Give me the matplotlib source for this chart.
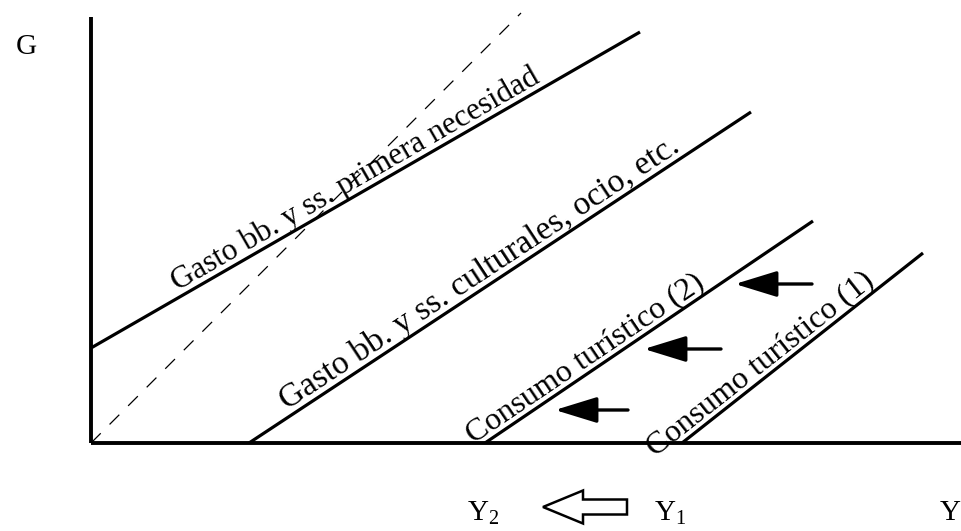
import numpy as np
import matplotlib
matplotlib.use("Agg")
import matplotlib.pyplot as plt
from matplotlib.patches import FancyArrow

plt.rcParams['font.family'] = ['Liberation Serif', 'DejaVu Serif']
plt.rcParams['mathtext.fontset'] = 'custom'
plt.rcParams['mathtext.rm'] = 'Liberation Serif'

# Income (Y) / expenditure (G) schematic, in axis units (1 unit = 10 px)
curve_names = [
    "Gasto bb. y ss. primera necesidad",
    "Gasto bb. y ss. culturales, ocio, etc.",
    "Consumo turístico (2)",
    "Consumo turístico (1)",
]
curve_x0 = [0.0, 15.8, 39.4, 59.1]
curve_y0 = [9.5, 0.0, 0.0, 0.0]
curve_x1 = [54.9, 66.0, 72.2, 83.2]
curve_y1 = [41.1, 33.1, 22.2, 19.0]
# where each label starts along its curve (x in axis units) and its size
label_start = [9.0, 20.0, 38.6, 56.8]
label_size = [22.5, 24, 23, 23]

# 45-degree reference line
diag_x = [0.0, 43.0]
diag_y = [0.0, 43.0]

# Leftward shift arrows (tail x, head x, y)
shift_tail = [72.1, 63.0, 53.7]
shift_head = [64.4, 55.3, 46.4]
shift_y = [15.9, 9.4, 3.3]

W, H = 962, 531
fig = plt.figure(figsize=(W / 100, H / 100), dpi=100)
ox, oy = 91, 443      # origin, pixels from top-left
top, right = 17, 962
ax = fig.add_axes([ox / W, (H - oy) / H, (right - ox) / W, (oy - top) / H])
ax.set_xlim(0, (right - ox) / 10)
ax.set_ylim(0, (oy - top) / 10)
ax.set_xticks([])
ax.set_yticks([])
for s in ("top", "right"):
    ax.spines[s].set_visible(False)
for s in ("left", "bottom"):
    ax.spines[s].set_linewidth(2.8)
    ax.spines[s].set_color("black")
    ax.spines[s].set_capstyle("butt")

ax.plot(diag_x, diag_y, color="black", lw=0.9, dashes=(11, 10), clip_on=False)

for x0, y0, x1, y1 in zip(curve_x0, curve_y0, curve_x1, curve_y1):
    ax.plot([x0, x1], [y0, y1], color="black", lw=2.3, solid_capstyle="butt")

for name, xs, fs, x0, y0, x1, y1 in zip(curve_names, label_start, label_size,
                                        curve_x0, curve_y0, curve_x1, curve_y1):
    slope = (y1 - y0) / (x1 - x0)
    ang = np.degrees(np.arctan(slope))
    ys = y0 + slope * (xs - x0)
    off = 4.5
    dx = -off * np.sin(np.radians(ang))
    dy = off * np.cos(np.radians(ang))
    ax.annotate(name, xy=(xs, ys), xytext=(dx, dy), textcoords="offset points",
                fontsize=fs, rotation=ang, rotation_mode="anchor",
                ha="left", va="baseline", annotation_clip=False)

for xt, xh, y in zip(shift_tail, shift_head, shift_y):
    ax.annotate("", xy=(xh, y), xytext=(xt, y),
                arrowprops=dict(arrowstyle="-|>,head_length=2.6,head_width=0.8",
                                mutation_scale=10, color="black", lw=2.4,
                                shrinkA=0, shrinkB=0))

# Axis names and income shift marker
fig.text(26 / W, 1 - 47 / H, "G", fontsize=21, ha="center", va="center")
fig.text(950 / W, 1 - 513 / H, "Y", fontsize=21, ha="center", va="center")
fig.text(483 / W, 1 - 513 / H, r"Y$_\mathrm{2}$", fontsize=21, ha="center", va="center")
fig.text(670 / W, 1 - 513 / H, r"Y$_\mathrm{1}$", fontsize=21, ha="center", va="center")

arr = FancyArrow(627 / W, 1 - 507 / H, -84 / W, 0, width=15 / H,
                 head_width=33 / H, head_length=40 / W, length_includes_head=True,
                 transform=fig.transFigure, facecolor="white", edgecolor="black",
                 lw=1.8)
fig.add_artist(arr)

fig.savefig("out.png", dpi=100)
